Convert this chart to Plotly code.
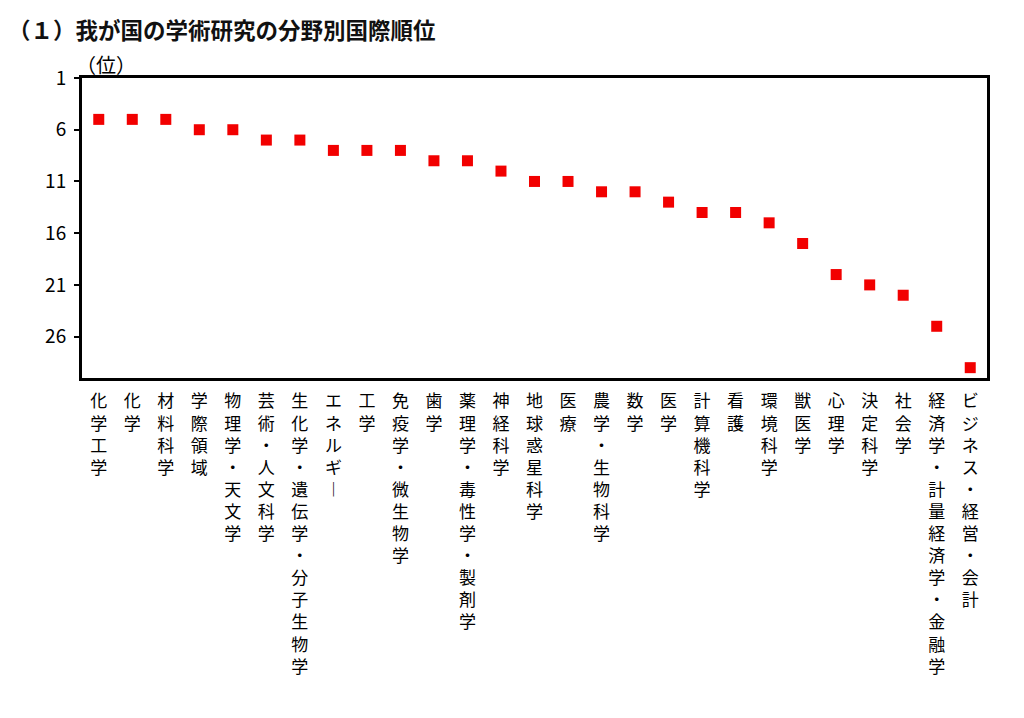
import plotly.graph_objects as go

# 分野名（縦書き表示用に1文字ずつ改行する）
fields = [
    "化学工学", "化学", "材料科学", "学際領域", "物理学・天文学",
    "芸術・人文科学", "生化学・遺伝学・分子生物学", "エネルギー", "工学",
    "免疫学・微生物学", "歯学", "薬理学・毒性学・製剤学", "神経科学",
    "地球惑星科学", "医療", "農学・生物科学", "数学", "医学", "計算機科学",
    "看護", "環境科学", "獣医学", "心理学", "決定科学", "社会学",
    "経済学・計量経済学・金融学", "ビジネス・経営・会計",
]
ranks = [5, 5, 5, 6, 6, 7, 7, 8, 8, 8, 9, 9, 10, 11, 11, 12, 12, 13, 14,
         14, 15, 17, 20, 21, 22, 25, 29]
ytick_vals = [1, 6, 11, 16, 21, 26]


def vertical(s):
    # 縦書き用: 長音記号は縦向きの記号に置き換える
    return "<br>".join("︱" if c == "ー" else c for c in s)


labels = [vertical(f) for f in fields]
font_jp = "Noto Sans CJK JP"

fig = go.Figure()
fig.add_trace(go.Scatter(
    x=labels, y=ranks, mode="markers",
    marker=dict(symbol="square", size=11, color="#f20000"),
    cliponaxis=False,
))

# ページ余白(8px)を見込んだサイズ
fig.update_layout(
    width=1008, height=702,
    margin=dict(l=74, r=29, t=70, b=332),
    paper_bgcolor="white", plot_bgcolor="white",
    showlegend=False,
    font=dict(family=font_jp, color="black"),
)
fig.update_xaxes(
    type="category", range=[-0.5, len(fields) - 0.5],
    showline=True, linewidth=3, linecolor="black", mirror=True,
    showgrid=False, ticks="", tickangle=0, ticklabelstandoff=6,
    tickfont=dict(size=17, family=font_jp, color="black"),
)
fig.update_yaxes(
    range=[30, 1], tickvals=ytick_vals,
    showline=True, linewidth=3, linecolor="black", mirror=True,
    showgrid=False, zeroline=False, ticks="outside", ticklen=5,
    tickcolor="black", tickwidth=1.5, ticklabelstandoff=4,
    tickfont=dict(size=19, family=font_jp, color="black"),
)
fig.add_annotation(text="<b>（１）我が国の学術研究の分野別国際順位</b>",
                   xref="paper", yref="paper", x=0.0, y=1.0,
                   xanchor="left", yanchor="middle", showarrow=False,
                   xshift=-76, yshift=49,
                   font=dict(size=22.5, family=font_jp, color="#111"))
fig.add_annotation(text="（位）", xref="paper", yref="paper", x=0.0, y=1.0,
                   xanchor="left", yanchor="bottom", showarrow=False,
                   xshift=-8, yshift=-3,
                   font=dict(size=20, family=font_jp, color="black"))

fig.write_html("out.html")
